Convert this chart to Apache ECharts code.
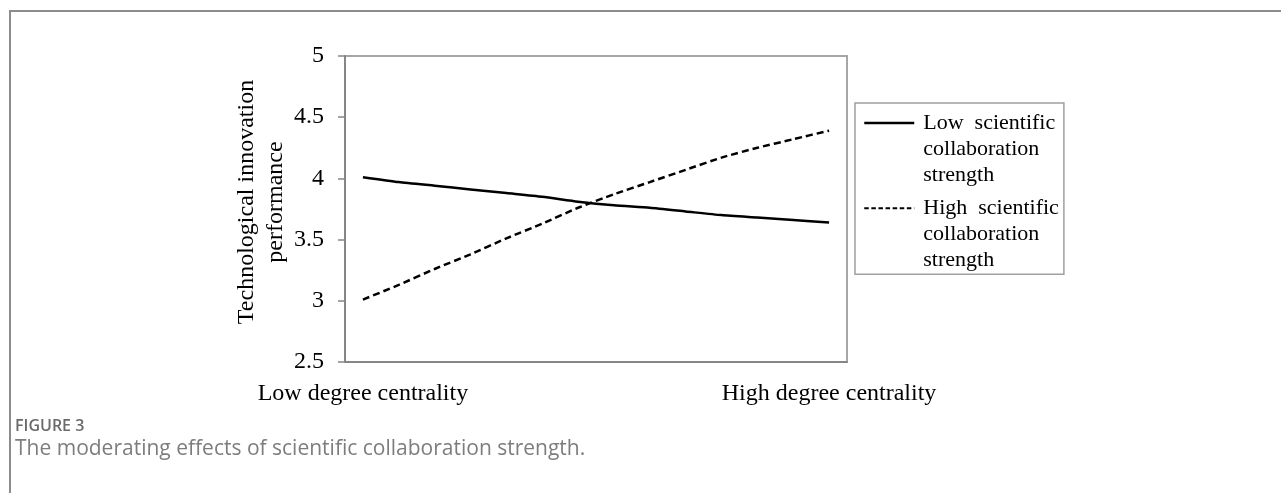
<!DOCTYPE html>
<html><head><meta charset="utf-8">
<script src="https://cdn.jsdelivr.net/npm/echarts@6/dist/echarts.min.js"></script>
<style>
html,body{margin:0;padding:0;background:#fff;}
#frame{position:absolute;left:9px;top:10px;width:1272px;height:483px;border-left:2px solid #8c8c8c;border-top:2px solid #8c8c8c;box-sizing:border-box;}
#chart{position:absolute;left:0;top:0;width:1281px;height:493px;}
</style></head><body>
<div id="frame"></div>
<div id="chart"></div>
<script>
const categories = ['Low degree centrality','','','','','','','','','','','','','High degree centrality'];
const lowCollab  = [4.01,3.97,3.94,3.91,3.88,3.85,3.81,3.78,3.76,3.73,3.70,3.68,3.66,3.64];
const highCollab = [3.01,3.13,3.26,3.38,3.51,3.63,3.76,3.87,3.97,4.07,4.17,4.25,4.32,4.39];
const seriesNames = ['Low scientific collaboration strength','High scientific collaboration strength'];
const legendLabels = ['Low  scientific\ncollaboration\nstrength','High  scientific\ncollaboration\nstrength'];
const yMin = 2.5, yMax = 5, yStep = 0.5;
const yName = 'Technological innovation\nperformance';
const figureLabel = 'FIGURE 3';
const caption = 'The moderating effects of scientific collaboration strength.';

const serif = "'Liberation Serif','Times New Roman',serif";
const chart = echarts.init(document.getElementById('chart'), null, {renderer:'canvas'});
chart.setOption({
  animation:false,
  backgroundColor:'transparent',
  title:{
    left:10, top:413,
    text:figureLabel,
    textStyle:{fontFamily:"'Open Sans',sans-serif",fontSize:16,fontWeight:600,color:'#6a6a6a'},
    subtext:caption,
    subtextStyle:{fontFamily:"'Open Sans',sans-serif",fontSize:21,color:'#7d7d7d'},
    itemGap:5
  },
  grid:{left:345,right:434,top:56,bottom:131,show:true,borderColor:'#a6a6a6',borderWidth:2,containLabel:false},
  xAxis:{
    type:'category',data:categories,boundaryGap:true,
    axisLine:{lineStyle:{color:'#868686',width:2}},
    axisTick:{show:false},
    axisLabel:{interval:0,margin:20,fontFamily:serif,fontSize:24,color:'#000'},
    splitLine:{show:false}
  },
  yAxis:{
    type:'value',min:yMin,max:yMax,interval:yStep,
    name:yName,nameLocation:'middle',nameGap:51,
    nameTextStyle:{fontFamily:serif,fontSize:24,lineHeight:29,color:'#000',padding:[0,0,0,14]},
    axisLine:{show:true,lineStyle:{color:'#868686',width:2}},
    axisTick:{show:true,length:7,lineStyle:{color:'#868686',width:1.5}},
    axisLabel:{margin:21,fontFamily:serif,fontSize:24,color:'#000'},
    splitLine:{show:false}
  },
  legend:{
    orient:'vertical',left:855,top:103,
    data:[
      {name:seriesNames[0],lineStyle:{width:2.5,type:'solid'}},
      {name:seriesNames[1],lineStyle:{width:2,type:[4.5,2.6]}}
    ],
    selectedMode:false,
    itemWidth:50,itemHeight:14,itemGap:-44.7,
    padding:[-45,5,1,8],
    borderColor:'#a0a0a0',borderWidth:1.5,
    itemStyle:{opacity:0},
    formatter:function(n){return '\n\n'+legendLabels[seriesNames.indexOf(n)];},
    textStyle:{fontFamily:serif,fontSize:22,lineHeight:26,color:'#000',padding:[0,0,0,4]}
  },
  series:[
    {name:seriesNames[0],type:'line',data:lowCollab,showSymbol:false,symbol:'none',smooth:0.2,
     lineStyle:{color:'#000',width:2.5,type:'solid'},itemStyle:{color:'#000'}},
    {name:seriesNames[1],type:'line',data:highCollab,showSymbol:false,symbol:'none',smooth:0.2,
     lineStyle:{color:'#000',width:2.5,type:[7,4]},itemStyle:{color:'#000'}}
  ]
});
</script>
</body></html>
